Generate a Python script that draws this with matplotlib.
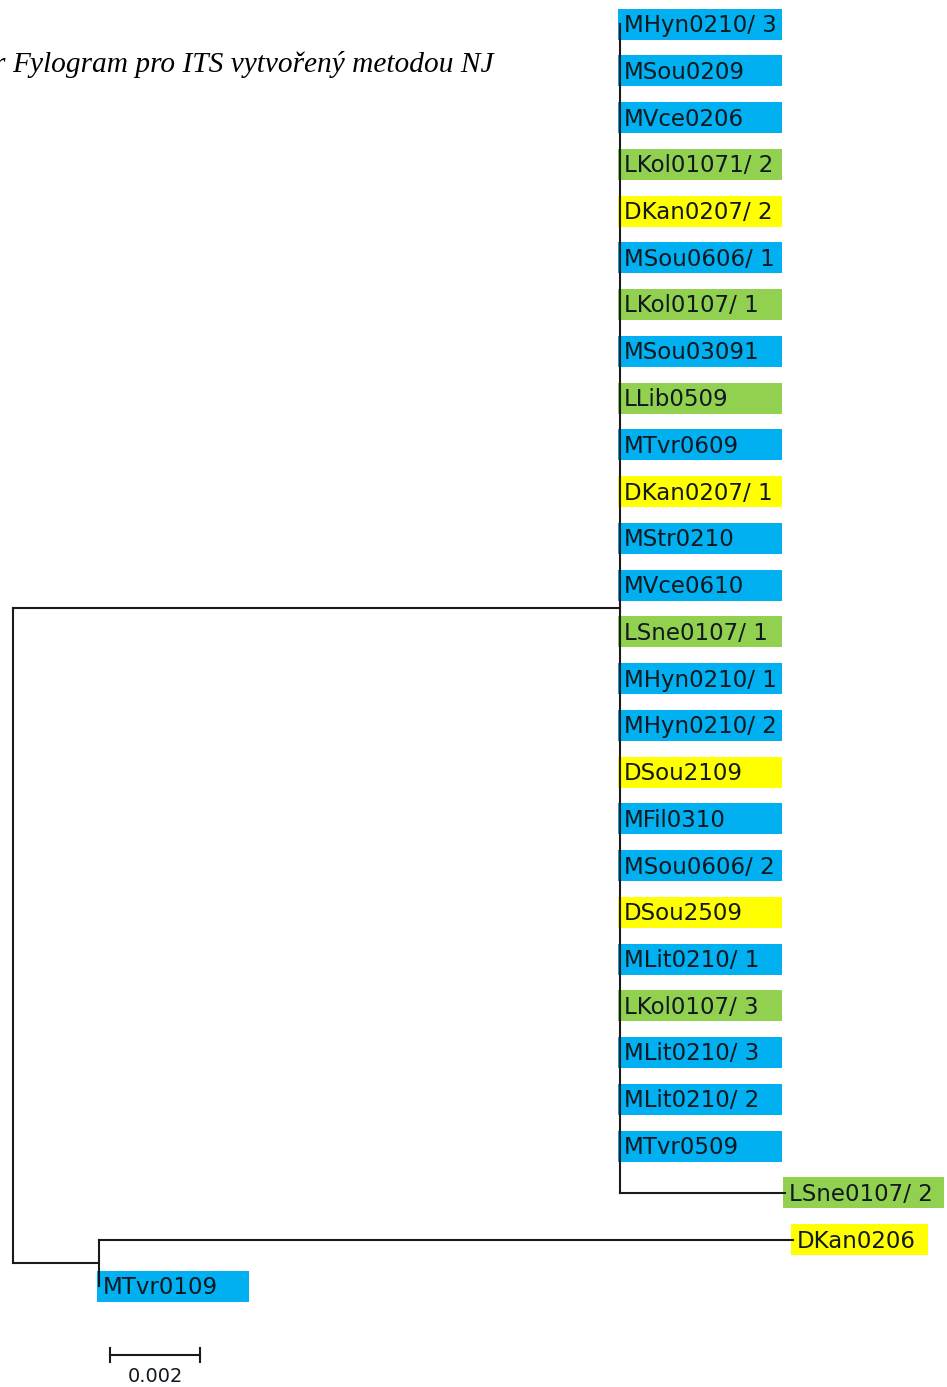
import matplotlib.pyplot as plt
from matplotlib.patches import Rectangle

title = 'Fylogram pro ITS vytvořený metodou NJ'

# ingroup clade, top to bottom
clade_leaves = ['MHyn0210/ 3', 'MSou0209', 'MVce0206', 'LKol01071/ 2', 'DKan0207/ 2',
                'MSou0606/ 1', 'LKol0107/ 1', 'MSou03091', 'LLib0509', 'MTvr0609',
                'DKan0207/ 1', 'MStr0210', 'MVce0610', 'LSne0107/ 1', 'MHyn0210/ 1',
                'MHyn0210/ 2', 'DSou2109', 'MFil0310', 'MSou0606/ 2', 'DSou2509',
                'MLit0210/ 1', 'LKol0107/ 3', 'MLit0210/ 3', 'MLit0210/ 2', 'MTvr0509',
                'LSne0107/ 2']
clade_lengths = [0.0, 0.0, 0.0, 0.0, 0.0, 0.0, 0.0, 0.0, 0.0, 0.0, 0.0, 0.0, 0.0,
                 0.0, 0.0, 0.0, 0.0, 0.0, 0.0, 0.0, 0.0, 0.0, 0.0, 0.0, 0.0, 0.00367]
clade_stem = 0.01349

# second clade at the bottom
out_leaves = ['DKan0206', 'MTvr0109']
out_lengths = [0.01542, 0.0]
out_stem = 0.00191

scale_length = 0.002

colors = {'M': '#00B0F0', 'L': '#92D050', 'D': '#FFFF00'}

W, H = 947, 1387
PX = 45000.0   # pixels per unit of branch length
X0 = 13        # root position, px
Y0 = 24        # first leaf, px
DY = 46.75     # leaf spacing, px

fig = plt.figure(figsize=(W / 100, H / 100), dpi=100)
ax = fig.add_axes([0, 0, 1, 1])
ax.set_xlim(-X0 / PX, (W - X0) / PX)
ax.set_ylim((H - Y0) / DY, -Y0 / DY)
ax.axis('off')


def px_x(p):
    return p / PX


def px_y(p):
    return p / DY


line_kw = dict(color='#1a1a1a', lw=1.5, solid_capstyle='projecting', zorder=3)
label_font = dict(family='DejaVu Sans', size=16.5, color='#101820')
box_px = {'MTvr0109': 152, 'DKan0206': 137, 'LSne0107/ 2': 161}

tips = []

# upper clade
n = len(clade_leaves)
cy = (n - 1) / 2
ax.plot([clade_stem, clade_stem], [0, n - 1], **line_kw)
ax.plot([0, clade_stem], [cy, cy], **line_kw)
for i, (name, bl) in enumerate(zip(clade_leaves, clade_lengths)):
    if bl > 0:
        ax.plot([clade_stem, clade_stem + bl], [i, i], **line_kw)
    tips.append((name, clade_stem + bl, i))

# lower clade
oy = [n, n + 1]
ocy = (oy[0] + oy[1]) / 2
ax.plot([out_stem, out_stem], [oy[0], oy[1]], **line_kw)
ax.plot([0, out_stem], [ocy, ocy], **line_kw)
for name, bl, y in zip(out_leaves, out_lengths, oy):
    if bl > 0:
        ax.plot([out_stem, out_stem + bl], [y, y], **line_kw)
    tips.append((name, out_stem + bl, y))

# root
ax.plot([0, 0], [cy, ocy], **line_kw)

# labels with coloured boxes
for name, x, y in tips:
    w = box_px.get(name, 164)
    ax.add_patch(Rectangle((x - px_x(2), y - px_y(15.5)), px_x(w), px_y(31),
                           facecolor=colors[name[0]], edgecolor='none', zorder=1))
    ax.text(x + px_x(4), y + px_y(8), name, ha='left', va='baseline', zorder=2,
            **label_font)

# scale bar
sx = px_x(110 - X0)
sy = px_y(1355 - Y0)
ax.plot([sx, sx + scale_length], [sy, sy], **line_kw)
for xx in (sx, sx + scale_length):
    ax.plot([xx, xx], [sy - px_y(7), sy + px_y(7)], **line_kw)
ax.text(sx + scale_length / 2, px_y(1382 - Y0), f'{scale_length:g}', ha='center',
        va='baseline', family='DejaVu Sans', size=14, color='#101820')

# caption
ax.text(px_x(12 - X0), px_y(72 - Y0), title, ha='left', va='baseline',
        family='Liberation Serif', style='italic', size=21.2, color='black')
ax.text(px_x(5 - X0), px_y(72 - Y0), 'r', ha='right', va='baseline',
        family='Liberation Serif', style='italic', size=21.2, color='black')

fig.savefig('out.png', dpi=100)
